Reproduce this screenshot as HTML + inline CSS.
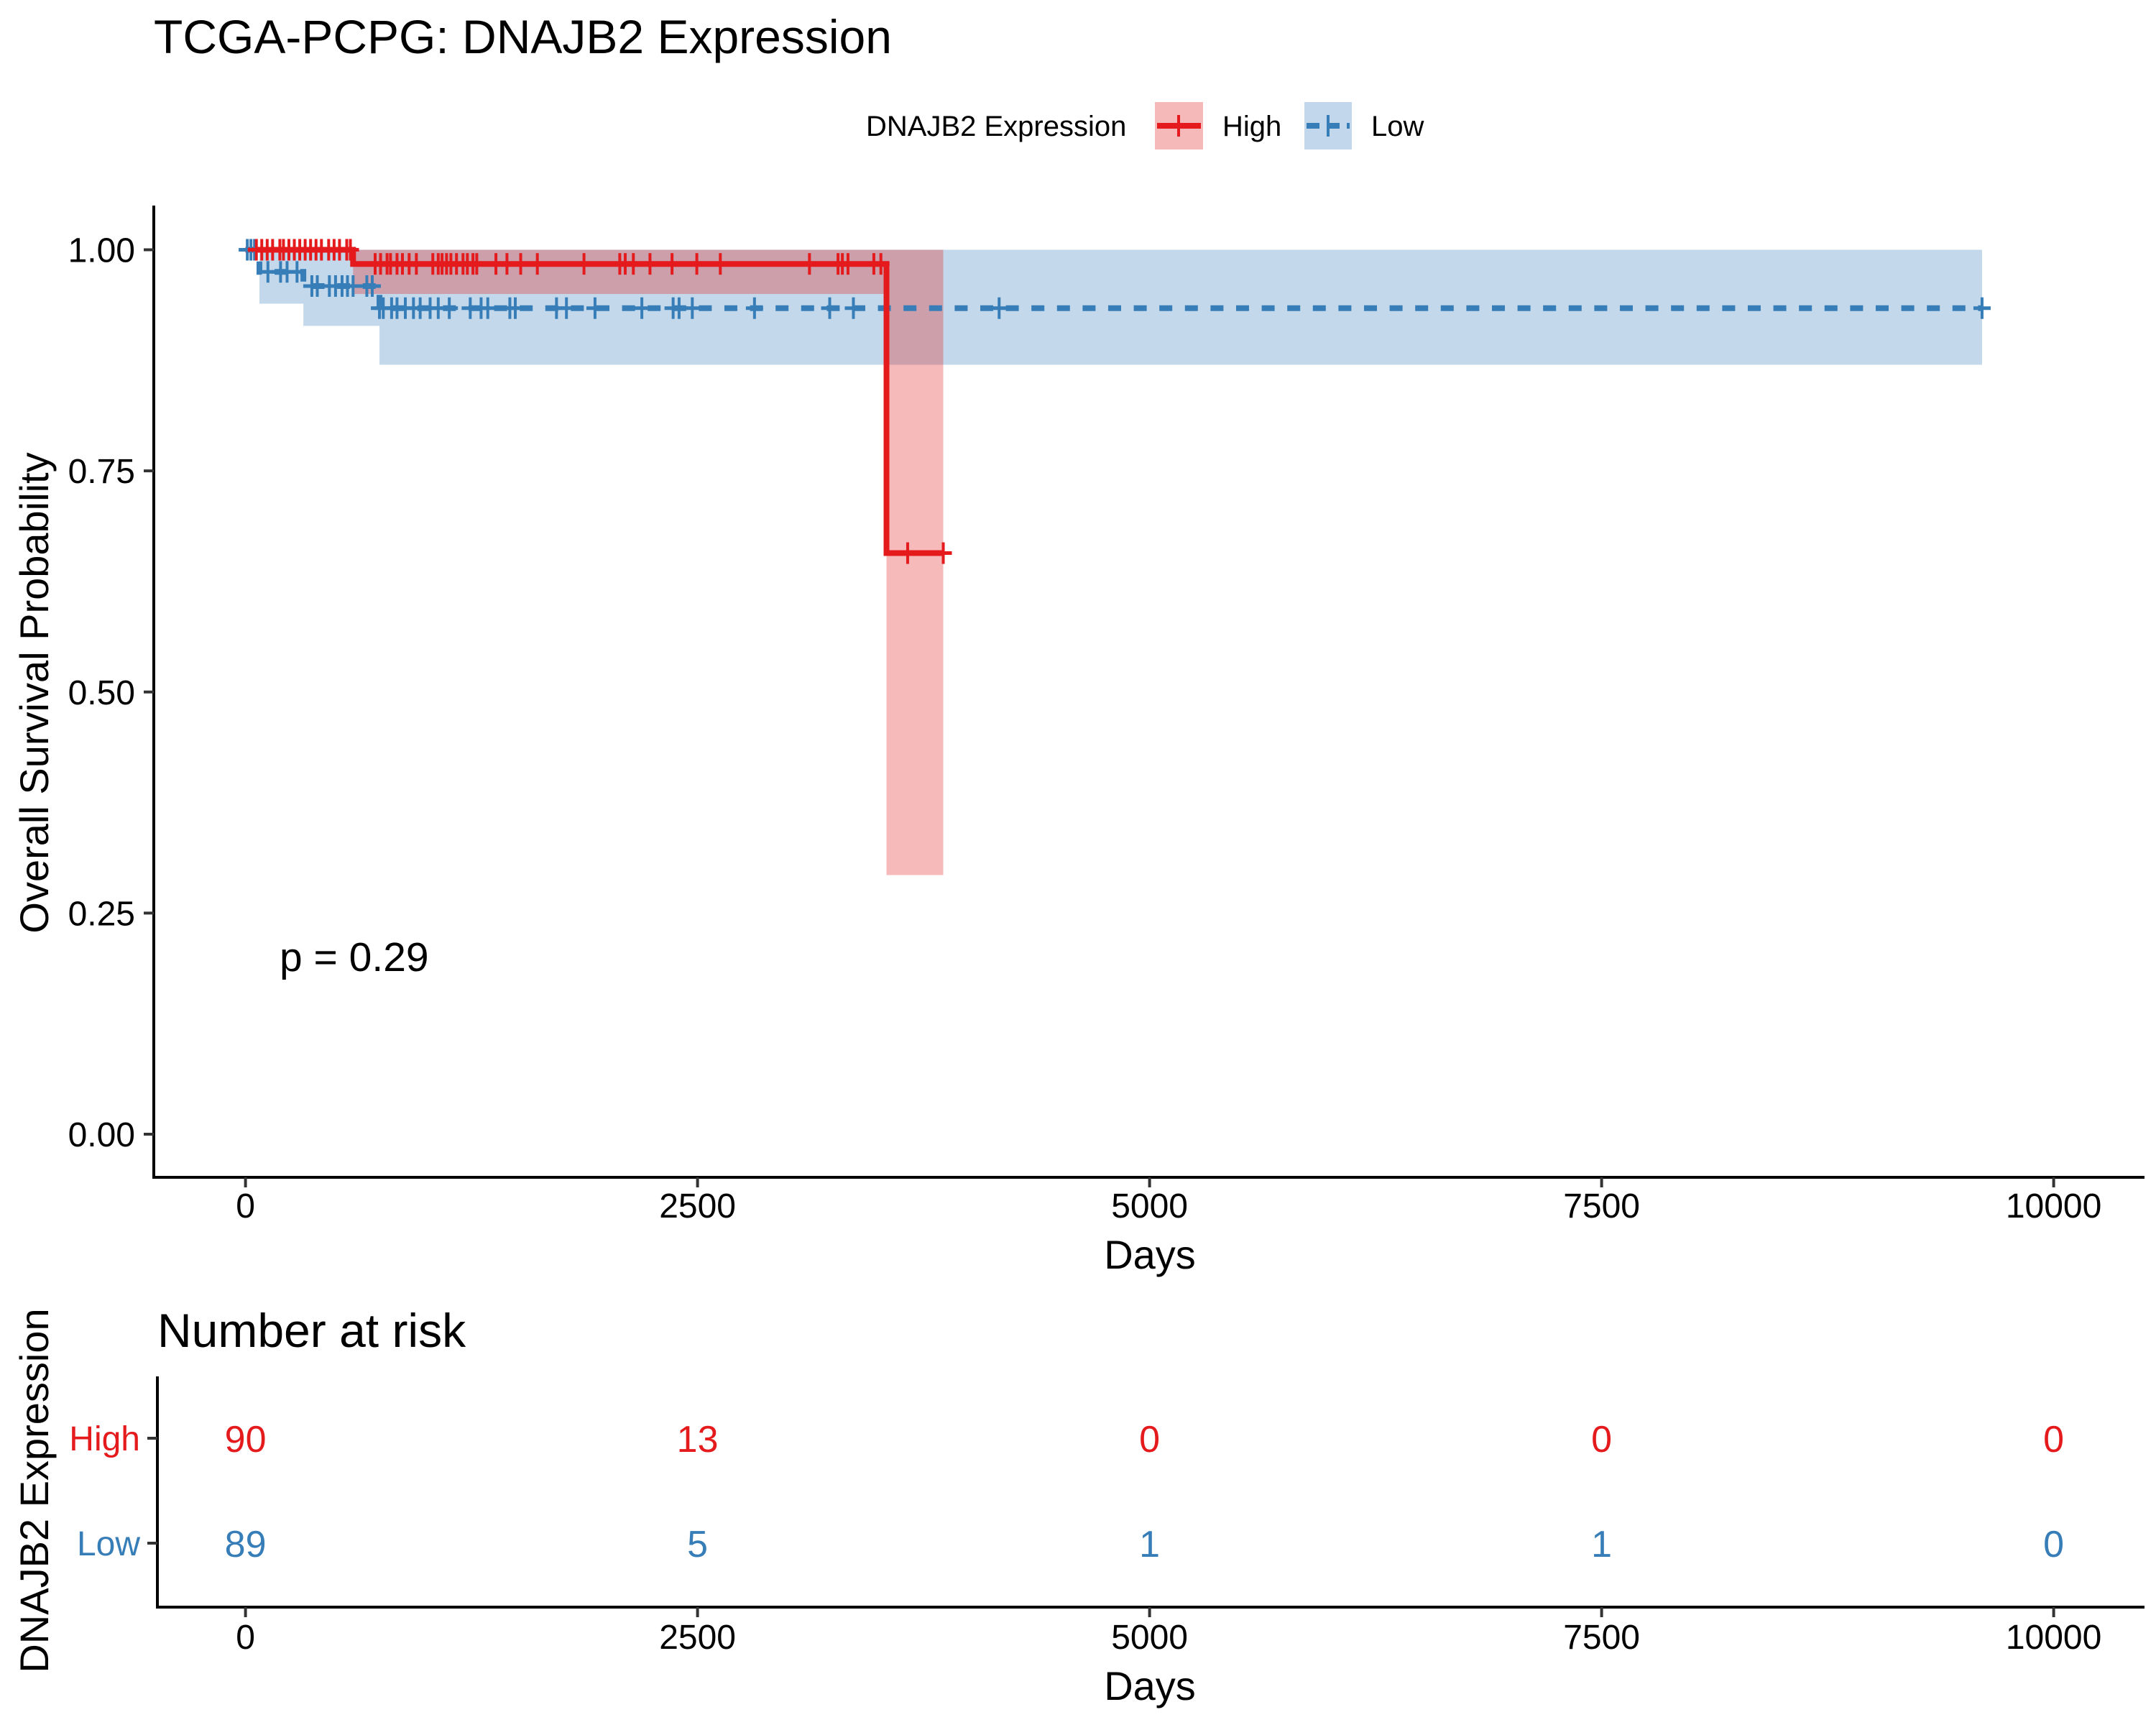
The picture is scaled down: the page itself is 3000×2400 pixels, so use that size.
<!DOCTYPE html>
<html><head><meta charset="utf-8"><style>
html,body{margin:0;padding:0;background:#fff}
svg{display:block;font-family:"Liberation Sans",Arial,sans-serif}
</style></head><body>
<svg id="chart" width="3000" height="2400" viewBox="0 0 3000 2400" xmlns="http://www.w3.org/2000/svg">
<text x="214" y="74" font-size="66">TCGA-PCPG: DNAJB2 Expression</text>
<g>
<text x="1205" y="189" font-size="40">DNAJB2 Expression</text>
<g>
<rect x="1607" y="142" width="67" height="66" fill="#f5b9b9"/>
<line x1="1610" y1="175" x2="1671" y2="175" stroke="#e41a1c" stroke-width="8"/>
<line x1="1640" y1="160" x2="1640" y2="190" stroke="#e41a1c" stroke-width="4"/>
<text x="1701" y="189" font-size="40">High</text></g>
<g>
<rect x="1815" y="142" width="66" height="66" fill="#c3d7ec"/>
<line x1="1818" y1="175" x2="1878" y2="175" stroke="#377eb8" stroke-width="8" stroke-dasharray="18,10"/>
<line x1="1848" y1="160" x2="1848" y2="190" stroke="#377eb8" stroke-width="4"/>
<text x="1908" y="189" font-size="40">Low</text></g>
</g>
<g id="plot"></g>
<g id="risk"></g>
</svg>
<script>
const xTicks=[0,2500,5000,7500,10000];
const yTicks=[0,0.25,0.5,0.75,1.0];
const yTickLabels=["0.00","0.25","0.50","0.75","1.00"];
const highTimes=[0,595,3545,3859];
const highSurv=[1.0,0.984,0.657,0.657];
const highLower=[1.0,0.950,0.293,0.293];
const highUpper=[1.0,1.0,1.0,1.0];
const lowTimes=[0,77,320,741,9604];
const lowSurv=[1.0,0.975,0.959,0.934,0.934];
const lowLower=[1.0,0.939,0.914,0.870,0.870];
const lowUpper=[1.0,1.0,1.0,1.0,1.0];
const highCensor=[60,90,120,150,190,210,240,270,300,330,360,390,420,460,490,520,560,580,717,747,783,802,838,868,905,945,1036,1066,1087,1112,1136,1167,1203,1227,1258,1279,1385,1446,1522,1614,1872,2070,2100,2145,2237,2359,2496,2626,3119,3277,3301,3332,3475,3514,3662,3859];
const lowCensor=[10,30,50,124,194,230,285,367,397,464,498,534,564,595,671,701,741,762,808,838,884,929,966,1021,1066,1127,1243,1303,1340,1462,1492,1720,1775,1933,2192,2365,2398,2471,2815,3231,3362,4168,9604];
const riskGroups=["High","Low"];
const riskHigh=[90,13,0,0,0];
const riskLow=[89,5,1,1,0];
const NS="http://www.w3.org/2000/svg";
function mk(t,a,p){const e=document.createElementNS(NS,t);for(const k in a)e.setAttribute(k,a[k]);p.appendChild(e);return e;}
const X=d=>341.6+d*0.2516;
const Y=v=>1578-v*1230.5;
const plot=document.getElementById('plot');
function survAt(times,surv,t){let v=surv[0];for(let i=0;i<times.length;i++){if(times[i]<=t)v=surv[i];}return v;}
function ribbon(times,lo,up,color,name){
 let d="";
 for(let i=0;i<times.length-1;i++){
  const x0=X(times[i]),x1=X(times[i+1]);
  d+=`M${x0},${Y(up[i])}H${x1}V${Y(lo[i])}H${x0}Z`;
 }
 const e=mk('path',{d:d,fill:color,'fill-opacity':0.3},plot);
 
 
}
function stepLine(times,surv,color,dash,name){
 let d=`M${X(times[0])},${Y(surv[0])}`;
 for(let i=1;i<times.length;i++){d+=`H${X(times[i])}V${Y(surv[i])}`;}
 const a={d:d,fill:'none',stroke:color,'stroke-width':8};
 if(dash)a['stroke-dasharray']=dash;
 const e=mk('path',a,plot);
 
 
}
function censors(list,times,surv,color,name){
 const g=mk('g',{},plot);
 
 
 list.forEach(t=>{
  const x=X(t),y=Y(survAt(times,surv,t));
  mk('line',{x1:x-12,y1:y,x2:x+12,y2:y,stroke:color,'stroke-width':5},g);
  mk('line',{x1:x,y1:y-15,x2:x,y2:y+15,stroke:color,'stroke-width':4},g);
 });
}
ribbon(lowTimes,lowLower,lowUpper,'#377eb8','low-ci-band');
ribbon(highTimes,highLower,highUpper,'#e41a1c','high-ci-band');
stepLine(lowTimes,lowSurv,'#377eb8','18,17.6','low-survival-curve');
stepLine(highTimes,highSurv,'#e41a1c',null,'high-survival-curve');
censors(lowCensor,lowTimes,lowSurv,'#377eb8','low-censor-marks');
censors(highCensor,highTimes,highSurv,'#e41a1c','high-censor-marks');
const ax=mk('g',{},plot);


mk('line',{x1:214,y1:286,x2:214,y2:1640,stroke:'#000','stroke-width':4},ax);
mk('line',{x1:212,y1:1638,x2:2984,y2:1638,stroke:'#000','stroke-width':4},ax);
yTicks.forEach((v,i)=>{
 mk('line',{x1:200,y1:Y(v),x2:214,y2:Y(v),stroke:'#333','stroke-width':4},ax);
 const t=mk('text',{x:188,y:Y(v)+17,'font-size':48,'text-anchor':'end'},ax);
 t.textContent=yTickLabels[i];
 
 
});
xTicks.forEach(v=>{
 mk('line',{x1:X(v),y1:1638,x2:X(v),y2:1652,stroke:'#333','stroke-width':4},ax);
 const t=mk('text',{x:X(v),y:1694,'font-size':48,'text-anchor':'middle'},ax);
 t.textContent=v;
 
 
});
let t=mk('text',{x:1600,y:1765,'font-size':56,'text-anchor':'middle'},ax);t.textContent='Days';


t=mk('text',{x:0,y:0,'font-size':56,'text-anchor':'middle',transform:'translate(67,964) rotate(-90)'},ax);t.textContent='Overall Survival Probability';


t=mk('text',{x:389,y:1351,'font-size':57},ax);t.textContent='p = 0.29';


const risk=document.getElementById('risk');
t=mk('text',{x:219,y:1874,'font-size':66},risk);t.textContent='Number at risk';


mk('line',{x1:219,y1:1915,x2:219,y2:2238,stroke:'#000','stroke-width':4},risk);
mk('line',{x1:217,y1:2236,x2:2984,y2:2236,stroke:'#000','stroke-width':4},risk);
const rowY=[2001,2147];
const rowCol=['#e41a1c','#377eb8'];
[riskHigh,riskLow].forEach((arr,r)=>{
 mk('line',{x1:205,y1:rowY[r],x2:219,y2:rowY[r],stroke:'#333','stroke-width':4},risk);
 const l=mk('text',{x:195,y:rowY[r]+17,'font-size':48,'text-anchor':'end',fill:rowCol[r]},risk);
 l.textContent=riskGroups[r];
 
 
 arr.forEach((n,i)=>{
  const e=mk('text',{x:X(xTicks[i]),y:rowY[r]+19,'font-size':52,'text-anchor':'middle',fill:rowCol[r]},risk);
  e.textContent=n;
  
  
 });
});
xTicks.forEach(v=>{
 mk('line',{x1:X(v),y1:2236,x2:X(v),y2:2250,stroke:'#333','stroke-width':4},risk);
 const e=mk('text',{x:X(v),y:2294,'font-size':48,'text-anchor':'middle'},risk);
 e.textContent=v;
 
 
});
t=mk('text',{x:1600,y:2365,'font-size':56,'text-anchor':'middle'},risk);t.textContent='Days';


t=mk('text',{x:0,y:0,'font-size':56,'text-anchor':'middle',transform:'translate(67,2074) rotate(-90)'},risk);t.textContent='DNAJB2 Expression';


</script>
</body></html>
